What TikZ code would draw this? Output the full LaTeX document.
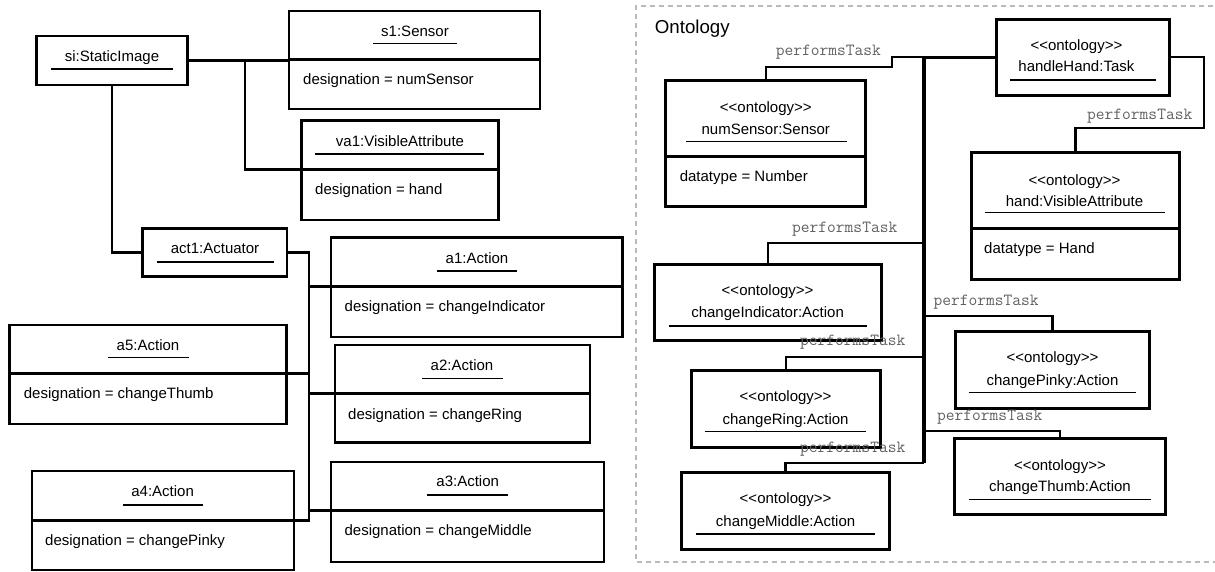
\documentclass[tikz,border=0pt]{standalone}
\usepackage{fontspec}
\setmainfont{Liberation Sans}[Ligatures=TeXOff]
\usetikzlibrary{calc}

% box: style, name, left, top, width, height
\newcommand\umlbox[6]{%
  \node[#1, minimum width=#5pt, minimum height=#6pt] (#2) at (#3,#4) {};}
% compartment line: name, left, width, y, line style
\newcommand\umlsep[5]{%
  \coordinate (#1-sw) at (#2,#4);
  \coordinate (#1-se) at ({#2+#3},#4);
  \draw[#5] (#1-sw) -- (#1-se);}
% underline: x1, x2, y
\newcommand\uline[3]{\draw[ul] (#1,#3) -- (#2,#3);}

\begin{document}
\begin{tikzpicture}[x=1pt,y=-1pt,
  font=\fontsize{15}{18}\selectfont,
  objbox/.style={draw, line width=2.5pt, rectangle, inner sep=0pt, outer sep=0pt, anchor=north west},
  ontbox/.style={draw, line width=3pt, rectangle, inner sep=0pt, outer sep=0pt, anchor=north west},
  objsep/.style={line width=2.5pt},
  ontsep/.style={line width=3pt},
  ul/.style={line width=1.1pt},
  txt/.style={inner sep=0pt, anchor=base},
  attr/.style={inner sep=0pt, anchor=base west},
  link/.style={line width=2.5pt},
  olink/.style={line width=2.2pt},
  bus/.style={line width=3.8pt},
  lbl/.style={inner sep=0pt, anchor=base west, font=\ttfamily\fontsize{17}{20}\selectfont, text=black!62},
  frame/.style={draw=black!27, line width=2pt, dash pattern=on 5pt off 4pt}
]
\useasboundingbox (0,0) rectangle (1215,571);

% ---------------- object diagram ----------------
\umlbox{objbox}{si}{36.7}{36}{150.6}{49}
\node[txt] (si-t) at (112,61) {si:StaticImage};
\uline{51}{173}{69}

\umlbox{objbox}{s1}{289}{11}{251}{98}
\umlsep{s1}{289}{251}{59.5}{objsep}
\node[txt] (s1-t) at (415,36) {s1:Sensor};
\uline{373}{457}{43.5}
\node[attr] (s1-a) at (303,84) {designation = numSensor};

\umlbox{objbox}{va1}{301.7}{120.7}{196.6}{99.3}
\umlsep{va1}{301.7}{196.6}{169.5}{objsep}
\node[txt] (va1-t) at (400,146) {va1:VisibleAttribute};
\uline{315}{484}{154}
\node[attr] (va1-a) at (315,194) {designation = hand};

\umlbox{objbox}{act1}{142.7}{228.3}{144.3}{48.4}
\node[txt] (act1-t) at (215,253.3) {act1:Actuator};
\uline{157}{274}{262}

\umlbox{objbox}{a1}{331}{237.3}{291.7}{99.7}
\umlsep{a1}{331}{291.7}{286.5}{objsep}
\node[txt] (a1-t) at (477,263.3) {a1:Action};
\uline{437}{517}{271}
\node[attr] (a1-a) at (344.5,311) {designation = changeIndicator};

\umlbox{objbox}{a5}{9.6}{325}{276.7}{99}
\umlsep{a5}{9.6}{276.7}{373.7}{objsep}
\node[txt] (a5-t) at (148,350) {a5:Action};
\uline{108}{189}{357.7}
\node[attr] (a5-a) at (23.7,398.3) {designation = changeThumb};

\umlbox{objbox}{a2}{335}{345}{255}{97.5}
\umlsep{a2}{335}{255}{393.7}{objsep}
\node[txt] (a2-t) at (462,370) {a2:Action};
\uline{422}{503}{378.3}
\node[attr] (a2-a) at (348,419.3) {designation = changeRing};

\umlbox{objbox}{a3}{331}{462}{273}{100}
\umlsep{a3}{331}{273}{510.5}{objsep}
\node[txt] (a3-t) at (467.7,486.7) {a3:Action};
\uline{427}{508}{495}
\node[attr] (a3-a) at (344.4,535) {designation = changeMiddle};

\umlbox{objbox}{a4}{31.8}{471}{262.2}{99}
\umlsep{a4}{31.8}{262.2}{520.5}{objsep}
\node[txt] (a4-t) at (162.6,496.7) {a4:Action};
\uline{122.5}{203}{505}
\node[attr] (a4-a) at (45,545) {designation = changePinky};

% links of the object diagram
\draw[link] (si.east) -- (si.east -| s1.west);
\coordinate (j1) at (245,60.5);
\draw[link] (j1) |- (va1-sw);
\draw[link] (si.south) |- (act1.west);
\coordinate (abus) at (309,252.5);
\draw[link] (act1.east) -| (a4-se -| abus) -- (a4-se);
\draw[link] (a1-sw -| abus) -- (a1-sw);
\draw[link] (a5-se) -- (a5-se -| abus);
\draw[link] (a2-sw -| abus) -- (a2-sw);
\draw[link] (a3-sw -| abus) -- (a3-sw);

% ---------------- ontology package ----------------
\draw[frame] (1222,6) -- (636,6) -- (636,562) -- (1222,562);
\node[attr, font=\fontsize{18.7}{22}\selectfont] (ont) at (654.7,33.5) {Ontology};

\umlbox{ontbox}{handleHand}{996.4}{19}{173.5}{76}
\node[txt] (hh-s) at (1076.4,50) {<<ontology>>};
\node[txt] (hh-t) at (1076.4,71.7) {handleHand:Task};
\uline{1010.4}{1156.3}{80}

\umlbox{ontbox}{numSensor}{665.7}{80}{199.8}{126.7}
\umlsep{numSensor}{665.7}{199.8}{156.7}{ontsep}
\node[txt] (ns-s) at (765.8,112.7) {<<ontology>>};
\node[txt] (ns-t) at (765.8,134.3) {numSensor:Sensor};
\uline{685.8}{847.2}{141.7}
\node[attr] (ns-a) at (679.6,181.7) {datatype = Number};

\umlbox{ontbox}{hand}{971.9}{152}{207.1}{127}
\umlsep{hand}{971.9}{207.1}{228.3}{ontsep}
\node[txt] (hd-s) at (1074.5,185) {<<ontology>>};
\node[txt] (hd-t) at (1074.5,206.7) {hand:VisibleAttribute};
\uline{984.7}{1165}{212.3}
\node[attr] (hd-a) at (984,253.3) {datatype = Hand};

\umlbox{ontbox}{changeIndicator}{654.7}{264.3}{226.3}{76.4}
\node[txt] (ci-s) at (767.6,295.7) {<<ontology>>};
\node[txt] (ci-t) at (767.6,317.7) {changeIndicator:Action};
\uline{669.3}{867.4}{326}

\umlbox{ontbox}{changePinky}{955.4}{331.7}{194.3}{76.6}
\node[txt] (cp-s) at (1052.5,362.3) {<<ontology>>};
\node[txt] (cp-t) at (1052.5,385) {changePinky:Action};
\uline{969.3}{1136}{392.7}

\umlbox{ontbox}{changeRing}{691.3}{370}{188.9}{77.7}
\node[txt] (cr-s) at (785.6,401.7) {<<ontology>>};
\node[txt] (cr-t) at (785.6,424.3) {changeRing:Action};
\uline{705.3}{866.3}{431.7}

\umlbox{ontbox}{changeThumb}{954.6}{438.3}{210.4}{76}
\node[txt] (ct-s) at (1059.9,470) {<<ontology>>};
\node[txt] (ct-t) at (1059.9,491) {changeThumb:Action};
\uline{969}{1150.8}{499.3}

\umlbox{ontbox}{changeMiddle}{681.4}{472.7}{208}{76.6}
\node[txt] (cm-s) at (785.6,503.3) {<<ontology>>};
\node[txt] (cm-t) at (785.6,526) {changeMiddle:Action};
\uline{695.7}{875.4}{534}

% performsTask links
\coordinate (bustop) at (924,57);
\coordinate (busbot) at (924,463);
\draw[bus] (bustop) -- (busbot);
\draw[olink, line width=3pt] (bustop) -- (handleHand.west);
\coordinate (jn) at (892,66.7);
\draw[olink] (bustop) -| (jn) -| (numSensor.north);
\coordinate (jh) at (1203.6,128.3);
\draw[olink] (handleHand.east) -| (jh) -| (hand.north);
\coordinate (b1) at (924,243.3);
\coordinate (b2) at (924,315.7);
\coordinate (b3) at (924,356.7);
\coordinate (b4) at (924,430.7);
\coordinate (b5) at (924,462.7);
\draw[olink] (b1) -| (changeIndicator.north);
\draw[olink] (b2) -| (changePinky.north);
\draw[olink] (b3) -| (changeRing.north);
\draw[olink] (b4) -| (changeThumb.north);
\draw[olink] (b5) -| (changeMiddle.north);

\node[lbl] (l1) at (775.7,55.7) {performsTask};
\node[lbl] (l2) at (1087,119) {performsTask};
\node[lbl] (l3) at (792,232.3) {performsTask};
\node[lbl] (l4) at (933.4,305) {performsTask};
\node[lbl] (l5) at (800,345.7) {performsTask};
\node[lbl] (l6) at (937,420) {performsTask};
\node[lbl] (l7) at (800,452.3) {performsTask};
\end{tikzpicture}
\end{document}
